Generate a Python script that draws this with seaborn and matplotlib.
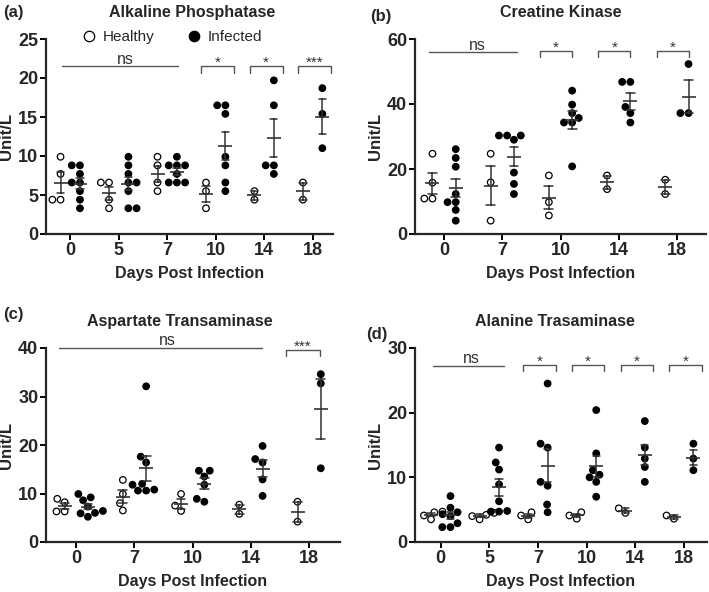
import warnings
warnings.filterwarnings("ignore")
import numpy as np
import pandas as pd
import matplotlib
matplotlib.use("Agg")
import matplotlib.pyplot as plt
import seaborn as sns

# ---------------- data ----------------
# (a) Alkaline Phosphatase
alp_days = ["0", "5", "7", "10", "14", "18"]
alp_healthy = [[9.9, 7.7, 4.4, 4.4], [6.6, 6.6, 4.4, 3.3], [9.9, 8.8, 6.6, 5.5],
               [6.6, 5.5, 3.3], [5.5, 4.4], [6.6, 4.4]]
alp_infected = [[8.8, 8.8, 7.7, 6.6, 6.6, 5.5, 4.4, 3.3],
                [9.9, 8.8, 7.7, 6.6, 6.6, 5.5, 3.3, 3.3],
                [9.9, 8.8, 8.8, 8.8, 7.7, 6.6, 6.6, 6.6],
                [16.5, 16.5, 15.4, 9.9, 8.8, 6.6, 5.5],
                [19.7, 16.5, 8.8, 8.8, 7.7],
                [18.7, 15.4, 11.0]]

# (b) Creatine Kinase
ck_days = ["0", "7", "10", "14", "18"]
ck_healthy = [[24.7, 15.8, 10.9, 10.9], [24.7, 15.9, 4.1], [18.0, 9.8, 5.7],
              [18.0, 13.8], [16.7, 12.3]]
ck_infected = [[26.1, 23.4, 20.7, 12.3, 9.8, 9.8, 7.4, 4.1],
               [30.3, 30.3, 30.3, 29.0, 18.9, 15.4, 12.3],
               [44.1, 39.8, 37.2, 35.7, 34.3, 34.3, 20.8],
               [46.8, 46.8, 39.1, 37.2, 34.3],
               [52.3, 37.2, 37.2]]

# (c) Aspartate Transaminase
ast_days = ["0", "7", "10", "14", "18"]
ast_healthy = [[8.9, 8.2, 6.3, 6.3], [12.8, 9.9, 8.0, 6.5], [9.9, 7.5, 6.4],
               [7.7, 5.8], [8.3, 4.2]]
ast_infected = [[9.9, 9.2, 8.6, 7.3, 6.4, 6.0, 5.9, 5.2],
                [32.1, 17.6, 16.4, 12.0, 11.8, 10.8, 10.6, 10.6],
                [14.7, 14.7, 13.5, 11.8, 8.9, 8.3],
                [19.8, 17.1, 16.4, 12.9, 9.5],
                [34.6, 32.7, 15.2]]

# (d) Alanine Trasaminase
alt_days = ["0", "5", "7", "10", "14", "18"]
alt_healthy = [[4.7, 4.6, 4.1, 3.5], [4.5, 4.2, 4.0, 3.5], [4.6, 4.1, 3.5],
               [4.6, 4.1, 3.6], [5.2, 4.5], [4.1, 3.6]]
alt_infected = [[7.1, 5.3, 4.6, 4.3, 4.0, 2.9, 2.3, 2.3],
                [14.6, 12.3, 11.2, 8.9, 6.3, 4.8, 4.7, 4.7],
                [24.5, 15.2, 14.6, 9.3, 8.7, 5.8, 4.6],
                [20.4, 13.7, 11.1, 10.4, 10.0, 9.3, 7.0],
                [18.7, 14.6, 12.9, 11.6, 9.3],
                [15.2, 12.9, 11.1]]

groups = ["Healthy", "Infected"]

# ---------------- style ----------------
sns.set_style("ticks")
plt.rcParams["font.family"] = ["Liberation Sans", "DejaVu Sans"]
plt.rcParams["axes.linewidth"] = 1.6

W, H = 709, 592
fig = plt.figure(figsize=(W / 100, H / 100), dpi=100)


def px_axes(l, r, top, bottom):
    return fig.add_axes([l / W, 1 - bottom / H, (r - l) / W, (bottom - top) / H])


def long_df(days, healthy, infected):
    rows = []
    for d, h, i in zip(days, healthy, infected):
        rows += [(d, "Healthy", v) for v in h]
        rows += [(d, "Infected", v) for v in i]
    return pd.DataFrame(rows, columns=["day", "group", "value"])


SIG = "#555555"
ERR = "#333333"


def draw(ax, days, healthy, infected, legend=False):
    df = long_df(days, healthy, infected)
    sns.swarmplot(data=df, x="day", y="value", hue="group", order=days,
                  hue_order=groups, palette={"Healthy": "white", "Infected": "black"},
                  dodge=True, size=4.7, edgecolor="black", linewidth=0.9,
                  ax=ax, legend=legend, zorder=2)
    sns.pointplot(data=df, x="day", y="value", hue="group", order=days,
                  hue_order=groups, palette={"Healthy": ERR, "Infected": ERR},
                  dodge=0.4, errorbar="se", capsize=0.15, markers="_",
                  linestyle="none", markersize=10, markeredgewidth=1.2,
                  err_kws={"linewidth": 1.1, "zorder": 3}, ax=ax, legend=False,
                  zorder=3)


def style(ax, xlim, ymax, yticks, title, tx):
    ax.set_xlim(*xlim)
    ax.set_ylim(0, ymax)
    ax.set_yticks(yticks)
    sns.despine(ax=ax)
    ax.tick_params(axis="both", labelsize=13, width=1.4, length=4, color="black")
    ax.tick_params(axis="y", pad=1.5)
    ax.tick_params(axis="x", pad=2)
    for lab in ax.get_xticklabels() + ax.get_yticklabels():
        lab.set_fontweight("bold")
    ax.set_xlabel("Days Post Infection", fontsize=11.5, fontweight="bold", labelpad=5)
    ax.set_ylabel("Unit/L", fontsize=12, fontweight="bold", labelpad=3)
    ax.set_title(title, fontsize=11.5, fontweight="bold", pad=16, x=tx)


def ns_line(ax, x0, x1, y, tx):
    ax.plot([x0, x1], [y, y], color=SIG, lw=1.0, clip_on=False)
    ax.annotate("ns", (tx, y), xytext=(0, 2), textcoords="offset points",
                ha="center", va="baseline", fontsize=11.5, color="#333333",
                annotation_clip=False)


def bracket(ax, x0, x1, y, drop, text):
    ax.plot([x0, x0, x1, x1], [y - drop, y, y, y - drop], color=SIG, lw=1.0,
            clip_on=False)
    ax.annotate(text, ((x0 + x1) / 2, y), xytext=(0, 0), textcoords="offset points",
                ha="center", va="baseline", fontsize=11, color="#333333",
                annotation_clip=False)


# (a)
axA = px_axes(46, 333, 39, 234)
draw(axA, alp_days, alp_healthy, alp_infected, legend=True)
style(axA, (-0.5, 5.42), 25, [0, 5, 10, 15, 20, 25], "Alkaline Phosphatase", 0.51)
leg = axA.get_legend()
handles = list(leg.legend_handles)
labels = [t.get_text() for t in leg.get_texts()]
leg.remove()
for hnd in handles:
    try:
        hnd.set_markersize(7.5)
    except Exception:
        pass
axA.legend(handles, labels, loc="center", bbox_to_anchor=(0.44, 1.01), ncol=2,
           frameon=False, fontsize=11, handlelength=0.8, handletextpad=0.5,
           columnspacing=2.2, borderaxespad=0)
ns_line(axA, -0.16, 2.22, 21.5, 1.13)
for i in [3, 4, 5]:
    bracket(axA, i - 0.3, i + 0.38, 21.5, 0.8, "***" if i == 5 else "*")

# (b)
axB = px_axes(415, 706, 39, 234)
draw(axB, ck_days, ck_healthy, ck_infected)
style(axB, (-0.5, 4.5), 60, [0, 20, 40, 60], "Creatine Kinase", 0.5)
ns_line(axB, -0.26, 1.25, 55.9, 0.58)
for i in [2, 3, 4]:
    bracket(axB, i - 0.35, i + 0.2, 56.2, 1.7, "*")

# (c)
axC = px_axes(46, 340, 348, 542)
draw(axC, ast_days, ast_healthy, ast_infected)
style(axC, (-0.52, 4.53), 40, [0, 10, 20, 30, 40], "Aspartate Transaminase", 0.456)
ns_line(axC, -0.29, 3.19, 40.0, 1.56)
bracket(axC, 4 - 0.4, 4 + 0.18, 39.5, 1.1, "***")

# (d)
axD = px_axes(415, 707, 348, 542)
draw(axD, alt_days, alt_healthy, alt_infected)
style(axD, (-0.53, 5.48), 30, [0, 10, 20, 30], "Alanine Trasaminase", 0.48)
ns_line(axD, -0.16, 1.3, 27.2, 0.63)
for i in [2, 3, 4, 5]:
    bracket(axD, i - 0.3, i + 0.37, 27.3, 0.9, "*")

# panel labels
for lab, x, y in [("(a)", 3, 12), ("(b)", 370, 17), ("(c)", 3, 315), ("(d)", 366, 334)]:
    fig.text(x / W, 1 - y / H, lab, fontsize=12, fontweight="bold", ha="left",
             va="center")

fig.savefig("out.png", dpi=100)
